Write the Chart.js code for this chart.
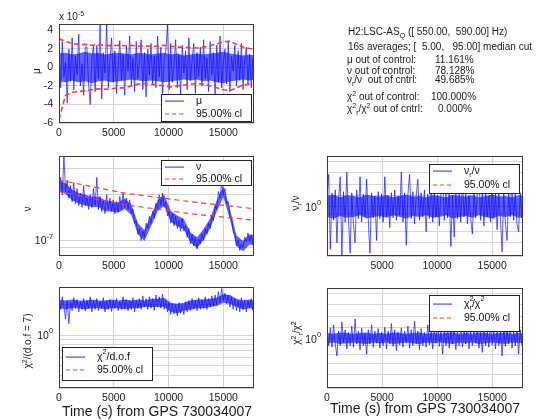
<!DOCTYPE html>
<html><head><meta charset="utf-8">
<script src="https://cdn.jsdelivr.net/npm/chart.js@4/dist/chart.umd.min.js"></script>
<style>
body{margin:0;background:#fff;width:554px;height:420px;position:relative;overflow:hidden;font-family:"Liberation Sans",Arial,sans-serif;color:#1a1a1a}
canvas{position:absolute;left:0;top:0}
.t{position:absolute;font-size:10px;white-space:pre;line-height:12px}
.c{position:absolute;font-size:10px;white-space:pre;line-height:12px;transform:translate(-50%,-50%)}
.r{position:absolute;font-size:10px;white-space:pre;line-height:12px;transform:translate(-50%,-50%) rotate(-90deg)}
.sp{font-size:7px;position:relative;top:-4px}
.sb{font-size:7px;position:relative;top:3px}
</style></head><body>
<canvas id="c1" width="554" height="420"></canvas>
<canvas id="c3" width="554" height="420"></canvas>
<canvas id="c4" width="554" height="420"></canvas>
<canvas id="c5" width="554" height="420"></canvas>
<canvas id="c6" width="554" height="420"></canvas>

<div class="t" style="left:59px;top:11px">x 10<span class="sp">-5</span></div>
<div class="r" style="left:37px;top:71px">μ</div>
<div class="r" style="left:28px;top:209px">ν</div>
<div class="r" style="left:296px;top:203px">ν<span class="sb">r</span>/ν</div>
<div class="r" style="left:28px;top:341px">χ<span class="sp">2</span>/(d.o.f = 7)</div>
<div class="r" style="left:297px;top:333px">χ<span class="sp">2</span><span class="sb">r</span>/χ<span class="sp">2</span></div>
<div class="c" style="left:157px;top:411px;font-size:14px">Time (s) from GPS 730034007</div>
<div class="c" style="left:425px;top:408px;font-size:14px">Time (s) from GPS 730034007</div>

<div class="t" style="left:348px;top:26px">H2:LSC-AS<span class="sb">Q</span> ([ 550.00,  590.00] Hz)</div>
<div class="t" style="left:348px;top:41px">16s averages; [  5.00,   95.00] median cut</div>
<div class="t" style="left:347px;top:54px">μ out of control:</div><div class="t" style="left:435px;top:54px">11.161%</div>
<div class="t" style="left:347px;top:65px">ν out of control:</div><div class="t" style="left:435px;top:65px">78.128%</div>
<div class="t" style="left:347px;top:74px">ν<span class="sb">r</span>/ν  out of cntrl:</div><div class="t" style="left:435px;top:74px">49.685%</div>
<div class="t" style="left:347px;top:91px">χ<span class="sp">2</span> out of control:</div><div class="t" style="left:431px;top:91px">100.000%</div>
<div class="t" style="left:347px;top:103px">χ<span class="sp">2</span><span class="sb">r</span>/χ<span class="sp">2</span> out of cntrl:</div><div class="t" style="left:438px;top:103px">0.000%</div>

<script>
// ---------------- data ----------------
const X_MAX = 17800;
const X_TICKS = [0, 5000, 10000, 15000];
const X_TICKS_NUR = [5000, 10000, 15000];
const T_STEP = 150; // spacing of the samples shown (s)
// times of the band-envelope and confidence-limit samples (s)
const ENV_T = [0,600,1200,1800,2400,3000,3600,4200,4800,5400,6000,6600,7200,7800,8400,9000,9600,10200,10800,11400,12000,12600,13200,13800,14400,15000,15600,16200,16800,17400,18000];

// mu (units of 1e-5)
const MU = [1.5,-2.2,2.8,-1.0,0.6,-3.8,2.0,-1.5,3.2,-2.4,
 1.2,-0.8,3.6,-2.0,0.4,-3.0,2.2,2.2,-1.8,-4.0,
 1.0,2.4,-2.6,2.4,-1.2,4.7,-3.4,1.6,-0.6,4.7,
 -2.2,0.8,3.2,-1.6,1.8,-2.8,0.2,2.9,-1.4,1.4,
 -3.0,2.4,-0.4,3.4,-2.0,1.0,-2.6,2.8,-1.2,0.6,
 3.0,-2.4,1.6,-3.2,2.0,-0.8,2.6,-1.8,1.2,-2.2,
 3.4,-1.0,2.2,-2.8,0.8,1.8,4.6,-2.4,2.6,-1.6,
 0.4,3.0,-2.2,1.4,-3.0,2.4,-0.6,1.8,-2.4,3.2,
 -1.4,0.8,2.6,-2.8,1.6,-1.0,2.2,-2.0,3.0,-1.2,
 1.0,-2.6,2.8,-0.8,1.6,-3.2,2.4,-1.6,3.4,-2.2,
 0.6,2.0,-1.8,2.8,-2.6,1.2,-0.4,2.4,-2.0,1.8,
 -1.4,2.6,-2.4,0.8,2.2,-1.8,1.4,-2.2,1.0,-0.6];
const MU_HI = [1.5,1.6,1.4,1.5,1.7,1.5,1.6,1.4,1.5,1.6,1.5,1.4,1.6,1.5,1.4,1.5,1.6,1.4,1.5,1.3,1.4,1.5,1.4,1.5,1.6,1.7,1.5,1.4,1.3,1.4,1.3];
const MU_LO = [-1.5,-1.6,-1.4,-1.6,-1.5,-1.7,-1.5,-1.4,-1.6,-1.5,-1.4,-1.3,-1.4,-1.5,-1.4,-1.5,-1.6,-1.5,-1.4,-1.3,-1.4,-1.3,-1.5,-1.4,-1.6,-1.7,-1.5,-1.4,-1.3,-1.4,-1.3];
const MU_CL_HI = [3.1,2.8,2.6,2.5,2.5,2.4,2.45,2.4,2.35,2.4,2.35,2.4,2.3,2.35,2.3,2.3,2.4,2.3,2.2,2.2,2.15,2.1,2.2,2.35,2.55,2.75,2.85,2.5,2.2,2.05,2.0];
const MU_CL_LO = [-5.6,-3.0,-2.7,-2.6,-2.5,-2.4,-2.3,-2.35,-2.3,-2.2,-2.2,-2.0,-1.8,-1.75,-1.8,-1.9,-2.0,-2.1,-2.0,-1.9,-1.8,-1.75,-1.8,-2.0,-2.2,-2.4,-2.5,-2.2,-1.9,-1.8,-1.8];
const MU_TICKS = [-6,-4,-2,0,2,4];

// nu (units of 1e-7)
const NU = [2.3,2.6,2.0,3.6,2.1,2.5,1.9,2.3,1.8,2.4,
 1.75,2.2,1.7,2.05,1.65,2.3,1.7,1.95,1.6,2.0,
 1.65,2.2,1.7,2.6,1.6,1.95,1.55,1.85,1.5,2.0,
 1.6,1.9,1.55,1.85,1.5,1.8,1.55,1.95,1.6,2.05,
 1.65,1.9,1.6,1.85,1.5,1.6,1.3,1.35,1.1,1.2,
 1.0,1.15,1.05,1.3,1.2,1.45,1.3,1.55,1.4,1.75,
 1.6,2.0,1.7,2.05,1.65,1.8,1.45,1.55,1.3,1.5,
 1.25,1.45,1.2,1.35,1.15,1.4,1.15,1.25,1.05,1.2,
 0.95,1.1,0.92,1.05,0.88,1.02,0.95,1.1,1.0,1.2,
 1.1,1.3,1.2,1.45,1.35,1.7,1.6,2.1,1.9,2.4,
 2.0,2.2,1.75,1.8,1.45,1.4,1.15,1.1,0.92,1.0,
 0.86,0.95,0.9,1.05,0.98,1.12,1.0,1.08,0.95,1.02];
const NU_HI = [2.48,2.38,2.16,2.05,2.0,1.94,1.94,1.84,1.81,1.78,1.89,1.73,1.3,1.17,1.46,1.84,2.0,1.57,1.46,1.38,1.13,1.05,1.19,1.4,1.84,2.27,1.62,1.08,0.99,1.1,1.08];
const NU_LO = [2.12,2.02,1.84,1.75,1.7,1.66,1.66,1.56,1.55,1.52,1.61,1.47,1.1,0.99,1.24,1.56,1.7,1.33,1.24,1.18,0.97,0.89,1.01,1.2,1.56,1.93,1.38,0.92,0.85,0.94,0.92];
const NU_CL_T = [0, 6000, 12000, 17800];
const NU_CL_HI = [2.5, 2.05, 1.8, 1.62];
const NU_CL_LO = [2.1, 1.72, 1.5, 1.36];
const NU_UNIT = 1e-7;
const NU_TICKS = [0.8, 0.9, 1, 2, 3];

// nu_r / nu
const NUR = [1.15,1.55,0.55,1.2,0.82,1.25,0.6,1.1,1.5,0.5,
 1.22,0.8,1.6,0.85,0.52,1.2,0.78,0.6,1.25,0.84,
 1.5,0.8,1.18,0.86,1.45,0.82,0.52,1.2,0.85,1.15,
 0.62,1.22,0.84,1.18,0.8,1.5,0.86,1.16,0.74,1.2,
 0.85,1.25,0.82,1.15,0.88,1.6,0.8,1.2,0.58,1.18,
 1.55,0.84,1.22,0.78,1.15,1.45,0.82,1.2,0.86,1.25,
 0.7,1.18,0.84,1.5,0.8,1.2,0.86,1.16,0.76,1.22,
 1.55,0.82,1.18,0.85,1.24,0.57,1.15,0.65,1.2,0.84,
 1.18,0.8,1.45,0.86,1.2,0.78,1.16,0.84,0.68,1.22,
 0.85,1.18,1.5,0.82,1.2,0.76,1.25,0.86,1.15,0.8,
 1.4,0.84,1.2,0.72,1.18,0.85,0.53,1.22,0.8,0.62,
 1.2,0.86,1.45,0.82,1.18,0.78,0.7,1.2,0.85,1.15];
const NUR_HI = [1.15,1.17,1.13,1.16,1.15,1.13,1.17,1.15,1.14,1.16,1.13,1.15,1.17,1.14,1.15,1.13,1.16,1.15,1.13,1.17,1.15,1.14,1.16,1.13,1.15,1.17,1.14,1.15,1.13,1.16,1.15];
const NUR_LO = [0.86,0.84,0.87,0.85,0.86,0.88,0.84,0.86,0.87,0.85,0.88,0.86,0.84,0.87,0.86,0.88,0.85,0.86,0.88,0.84,0.86,0.87,0.85,0.88,0.86,0.84,0.87,0.86,0.88,0.85,0.86];
const RATIO_TICKS = [0.5,0.6,0.7,0.8,0.9,1,1.15,1.35,1.6,1.85,2];

// chi^2 / dof
const CHI = [2.3,1.8,2.4,1.9,1.45,2.2,1.3,2.1,1.75,2.35,
 1.85,2.25,1.7,2.15,1.8,2.3,1.75,2.2,1.85,2.4,
 1.7,2.2,1.8,2.3,1.75,2.15,1.85,2.35,1.7,2.2,
 1.8,2.25,1.72,2.2,1.85,2.3,1.75,2.15,1.8,2.4,
 1.85,2.25,1.75,2.2,1.8,2.35,1.7,2.2,1.85,2.3,
 1.8,2.45,1.9,2.3,1.8,2.4,1.85,2.3,1.75,2.5,
 1.9,2.4,1.85,2.55,1.8,2.2,1.7,2.1,1.6,2.05,
 1.62,2.0,1.55,2.1,1.65,2.0,1.6,2.15,1.7,2.2,
 1.75,2.3,1.8,2.2,1.75,2.35,1.8,2.25,1.85,2.4,
 1.8,2.3,1.9,2.45,1.95,2.5,2.0,2.7,2.1,2.9,
 2.2,2.6,2.05,2.5,1.9,2.4,1.8,2.3,1.75,2.2,
 1.7,2.35,1.8,2.25,1.7,2.2,1.85,2.3,1.75,2.2];
const CHI_HI = [2.25,2.2,2.25,2.2,2.2,2.25,2.2,2.2,2.25,2.2,2.25,2.2,2.25,2.2,2.3,2.3,2.35,2.1,2.05,2.1,2.2,2.25,2.25,2.3,2.35,2.55,2.5,2.3,2.2,2.25,2.2];
const CHI_LO = [1.85,1.8,1.85,1.85,1.8,1.85,1.85,1.8,1.85,1.85,1.8,1.85,1.85,1.9,1.9,1.9,1.9,1.7,1.65,1.75,1.8,1.85,1.85,1.9,1.95,2.1,2.05,1.9,1.8,1.85,1.8];
const CHI_TICKS = [0.3,0.4,0.5,0.6,0.7,0.8,0.9,1,2,3];

// chi^2_r / chi^2
const CHIR = [1.08,0.9,1.15,0.88,1.2,0.92,0.78,1.1,0.9,1.25,
 0.94,1.12,0.86,1.08,0.9,1.18,0.88,1.3,0.92,1.1,
 0.85,1.15,0.9,1.06,0.8,1.12,0.92,1.2,0.88,1.1,
 0.93,1.14,0.87,1.08,0.9,1.16,0.86,1.1,0.92,1.22,
 0.89,1.12,0.84,1.09,0.91,1.15,0.88,1.1,0.93,1.18,
 0.87,1.12,0.9,1.26,0.92,1.1,0.85,1.14,0.9,1.08,
 0.88,1.2,0.91,1.11,0.86,1.15,0.93,1.28,0.89,1.1,
 0.8,1.12,0.9,1.16,0.87,1.1,0.92,1.14,0.85,1.09,
 0.9,1.18,0.88,1.12,0.92,1.24,0.86,1.1,0.9,1.15,
 0.93,1.12,0.87,1.08,0.82,1.16,0.9,1.1,0.88,1.2,
 0.91,1.12,0.86,1.14,0.9,1.1,0.78,1.16,0.89,1.12,
 0.92,1.22,0.87,1.1,0.9,1.15,0.8,1.12,0.91,1.08];
const CHIR_HI = [1.07,1.06,1.08,1.07,1.06,1.07,1.08,1.06,1.07,1.06,1.08,1.07,1.06,1.07,1.08,1.06,1.07,1.06,1.07,1.08,1.06,1.07,1.06,1.08,1.07,1.06,1.07,1.08,1.06,1.07,1.06];
const CHIR_LO = [0.93,0.94,0.92,0.93,0.94,0.93,0.92,0.94,0.93,0.94,0.92,0.93,0.94,0.93,0.92,0.94,0.93,0.94,0.93,0.92,0.94,0.93,0.94,0.92,0.93,0.94,0.93,0.92,0.94,0.93,0.94];

// ---------------- drawing helpers ----------------
const FONT = '"Liberation Sans", Arial, sans-serif';
const LINE_BLUE = 'rgba(10,10,255,0.75)';
const CORE_BLUE = 'rgba(0,0,255,0.62)';
const LEG_BLUE = '#4a4aff';
const RED = '#ff3a2e';
const GRID = '#d4d4d4';

function series(arr, scale) {
  return arr.map((v, i) => ({x: i * T_STEP, y: v * (scale || 1)}));
}
function pairs(ts, vs, scale) {
  return ts.map((t, i) => ({x: t, y: vs[i] * (scale || 1)}));
}
function drawRich(ctx, parts, x, y, align, size) {
  const small = size * 0.7;
  let w = 0;
  parts.forEach(p => {
    ctx.font = (p[1] ? small : size) + 'px ' + FONT;
    if (!p[2]) w += ctx.measureText(p[0]).width;
  });
  let cx = align === 'right' ? x - w : x;
  ctx.textBaseline = 'middle';
  ctx.textAlign = 'left';
  parts.forEach(p => {
    const s = p[1] ? small : size;
    ctx.font = s + 'px ' + FONT;
    const dy = p[1] === 'sup' ? -size * 0.45 : (p[1] === 'sub' ? size * 0.4 : 0);
    ctx.fillText(p[0], cx, y + dy);
    if (!p[2]) cx += ctx.measureText(p[0]).width;
  });
}

const panelPlugin = {
  id: 'panel',
  afterDraw(chart, args, o) {
    const ctx = chart.ctx, a = chart.chartArea;
    ctx.save();
    ctx.setLineDash([]);
    ctx.strokeStyle = '#3a3a3a';
    ctx.lineWidth = 1;
    ctx.strokeRect(Math.round(a.left) + 0.5, Math.round(a.top) + 0.5,
      Math.round(a.right - a.left) - 1, Math.round(a.bottom - a.top) - 1);
    ctx.fillStyle = '#1a1a1a';
    const ys = chart.scales.y;
    (o.yLabels || []).forEach(l => {
      drawRich(ctx, l.parts, a.left - 6, ys.getPixelForValue(l.v) + (l.dy || 0), 'right', 10.5);
    });
    const L = o.legend;
    if (L) {
      ctx.fillStyle = '#fff';
      ctx.fillRect(L.x, L.y, L.w, L.h);
      ctx.strokeStyle = '#222';
      ctx.lineWidth = 1;
      ctx.strokeRect(L.x + 0.5, L.y + 0.5, L.w, L.h);
      L.rows.forEach(r => {
        const yy = Math.round(L.y + r.dy);
        if (r.dash) {
          ctx.beginPath();
          ctx.setLineDash(r.dash);
          ctx.lineWidth = r.width;
          ctx.strokeStyle = r.color;
          ctx.moveTo(L.x + 4, yy);
          ctx.lineTo(L.x + 23, yy);
          ctx.stroke();
          ctx.setLineDash([]);
        } else {
          ctx.fillStyle = r.color;
          ctx.fillRect(L.x + 4, yy - 0.5, 19, 1.2);
        }
        ctx.fillStyle = '#111';
        drawRich(ctx, r.parts, L.x + 35, yy, 'left', 10.5);
      });
    }
    ctx.restore();
  }
};

function makePanel(id, box, yCfg, datasets, xTicks, yLabels, legend) {
  const XH = 20;
  new Chart(document.getElementById(id), {
    type: 'line',
    data: {datasets},
    plugins: [panelPlugin],
    options: {
      responsive: false,
      animation: false,
      events: [],
      layout: {padding: {left: box.l, top: box.t, right: 554 - box.r, bottom: 420 - box.b - XH}},
      plugins: {legend: {display: false}, tooltip: {enabled: false}, panel: {yLabels, legend}},
      elements: {point: {radius: 0}, line: {tension: 0}},
      scales: {
        x: {
          type: 'linear', min: 0, max: X_MAX,
          afterBuildTicks: s => { s.ticks = xTicks.map(v => ({value: v})); },
          afterFit: s => { s.height = XH; },
          ticks: {callback: v => String(v), font: {family: FONT, size: 10.5}, color: '#1a1a1a', padding: 4, maxRotation: 0, autoSkip: false},
          grid: {color: GRID, drawTicks: false, lineWidth: 1},
          border: {display: false}
        },
        y: Object.assign({
          afterFit: s => { s.width = 0; },
          ticks: {display: false},
          grid: {color: GRID, drawTicks: false, lineWidth: 1},
          border: {display: false}
        }, yCfg)
      }
    }
  });
}

function lineDs(data, color, width, dash) {
  return {data, borderColor: color, borderWidth: width, borderDash: dash || [], pointRadius: 0, fill: false};
}
// series trace + its dense core band (filled between two envelope datasets)
function traceSets(arr, hi, lo, scale) {
  return [
    lineDs(series(arr, scale), LINE_BLUE, 0.9),
    {data: pairs(ENV_T, lo, scale), borderWidth: 0, borderColor: 'rgba(0,0,0,0)', pointRadius: 0, fill: false},
    {data: pairs(ENV_T, hi, scale), borderWidth: 0, borderColor: 'rgba(0,0,0,0)', pointRadius: 0, fill: '-1', backgroundColor: CORE_BLUE}
  ];
}

const LEG_DATA = {color: LEG_BLUE, width: 1};
const LEG_CL = {color: RED, width: 1.2, dash: [4, 3]};

// Panel 1: mu
makePanel('c1', {l: 59, r: 254, t: 24, b: 123},
  {type: 'linear', min: -6, max: 4.7, afterBuildTicks: s => { s.ticks = MU_TICKS.map(v => ({value: v})); }},
  [lineDs(pairs(ENV_T, MU_CL_HI), RED, 1.6, [5, 3]),
   lineDs(pairs(ENV_T, MU_CL_LO), RED, 1.6, [5, 3])].concat(traceSets(MU, MU_HI, MU_LO)),
  X_TICKS,
  MU_TICKS.map(v => ({v, parts: [[String(v)]]})),
  {x: 161, y: 94, w: 90, h: 27, rows: [
    Object.assign({dy: 7, parts: [['μ']]}, LEG_DATA),
    Object.assign({dy: 20, parts: [['95.00% cl']]}, LEG_CL)]});

// Panel 3: nu
makePanel('c3', {l: 59, r: 254, t: 156, b: 256},
  {type: 'logarithmic', min: 0.79 * NU_UNIT, max: 3.6 * NU_UNIT,
   afterBuildTicks: s => { s.ticks = NU_TICKS.map(v => ({value: v * NU_UNIT})); }},
  [lineDs(pairs(NU_CL_T, NU_CL_HI, NU_UNIT), RED, 1.2, [5, 4]),
   lineDs(pairs(NU_CL_T, NU_CL_LO, NU_UNIT), RED, 1.2, [5, 4])].concat(traceSets(NU, NU_HI, NU_LO, NU_UNIT)),
  X_TICKS,
  [{v: NU_UNIT, dy: 1, parts: [['10'], ['-7', 'sup']]}],
  {x: 161, y: 160, w: 90, h: 25, rows: [
    Object.assign({dy: 6.5, parts: [['ν']]}, LEG_DATA),
    Object.assign({dy: 18.5, parts: [['95.00% cl']]}, LEG_CL)]});

// Panel 4: nu_r / nu
makePanel('c4', {l: 327, r: 523, t: 156, b: 256},
  {type: 'logarithmic', min: 0.5, max: 2,
   afterBuildTicks: s => { s.ticks = RATIO_TICKS.map(v => ({value: v})); }},
  traceSets(NUR, NUR_HI, NUR_LO),
  X_TICKS_NUR,
  [{v: 1, dy: 2, parts: [['10'], ['0', 'sup']]}],
  {x: 429, y: 164, w: 90, h: 29, rows: [
    Object.assign({dy: 7, parts: [['ν'], ['r', 'sub'], ['/ν']]}, LEG_DATA),
    Object.assign({dy: 21, parts: [['95.00% cl']]}, LEG_CL)]});

// Panel 5: chi^2 / dof
makePanel('c5', {l: 59, r: 254, t: 287, b: 388},
  {type: 'logarithmic', min: 0.3, max: 3,
   afterBuildTicks: s => { s.ticks = CHI_TICKS.map(v => ({value: v})); }},
  traceSets(CHI, CHI_HI, CHI_LO),
  X_TICKS,
  [{v: 1, dy: 1, parts: [['10'], ['0', 'sup']]}],
  {x: 62, y: 347, w: 90, h: 33, rows: [
    Object.assign({dy: 10, parts: [['χ'], ['2', 'sup'], ['/d.o.f']]}, LEG_DATA),
    Object.assign({dy: 23, parts: [['95.00% cl']]}, LEG_CL)]});

// Panel 6: chi^2_r / chi^2
makePanel('c6', {l: 327, r: 523, t: 288, b: 388},
  {type: 'logarithmic', min: 0.5, max: 2,
   afterBuildTicks: s => { s.ticks = RATIO_TICKS.map(v => ({value: v})); }},
  traceSets(CHIR, CHIR_HI, CHIR_LO),
  X_TICKS,
  [{v: 1, dy: 2, parts: [['10'], ['0', 'sup']]}],
  {x: 429, y: 295, w: 90, h: 36, rows: [
    Object.assign({dy: 9, parts: [['χ'], ['2', 'sup', true], ['r', 'sub'], ['/χ'], ['2', 'sup']]}, LEG_DATA),
    Object.assign({dy: 23, parts: [['95.00% cl']]}, LEG_CL)]});
</script>
</body></html>
